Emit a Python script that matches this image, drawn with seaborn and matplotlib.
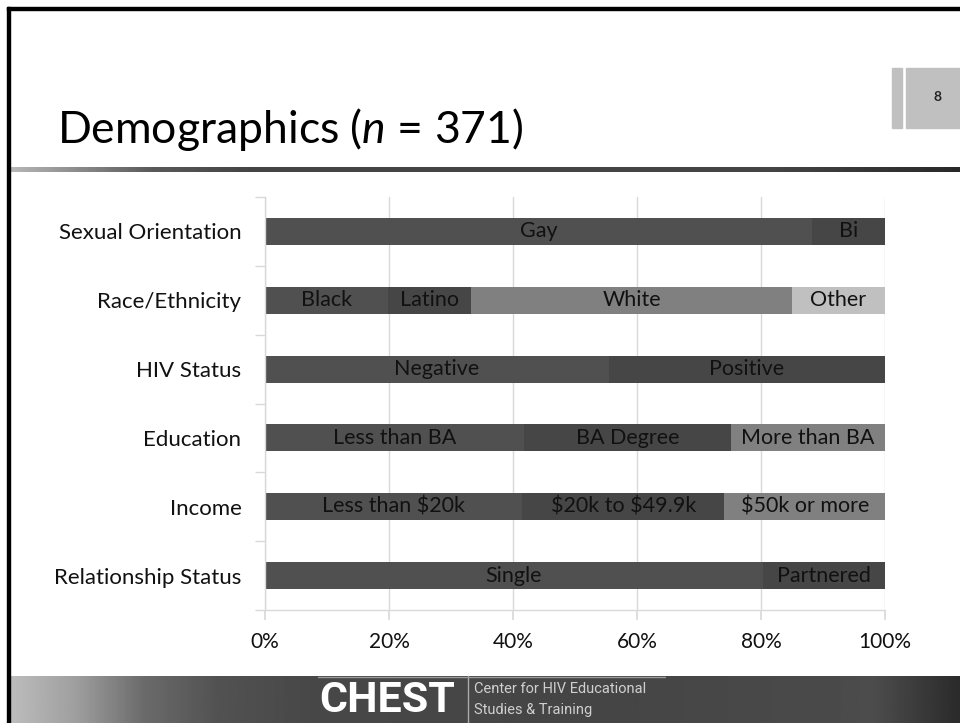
import numpy as np
import pandas as pd
import matplotlib
matplotlib.use("Agg")
import matplotlib.pyplot as plt
from matplotlib.patches import Rectangle
from matplotlib.lines import Line2D
import seaborn as sns

# data (percent of n = 371)
categories = ["Sexual Orientation", "Race/Ethnicity", "HIV Status",
              "Education", "Income", "Relationship Status"]
segment_labels = [["Gay", "Bi"],
                  ["Black", "Latino", "White", "Other"],
                  ["Negative", "Positive"],
                  ["Less than BA", "BA Degree", "More than BA"],
                  ["Less than $20k", "$20k to $49.9k", "$50k or more"],
                  ["Single", "Partnered"]]
segment_values = [[88.2, 11.8],
                  [19.8, 13.5, 51.7, 15.0],
                  [55.5, 44.5],
                  [41.8, 33.4, 24.8],
                  [41.5, 32.6, 25.9],
                  [80.3, 19.7]]
segment_colors = ["#505050", "#464646", "#808080", "#c0c0c0"]
x_ticks = [0, 20, 40, 60, 80, 100]
x_ticklabels = ["0%", "20%", "40%", "60%", "80%", "100%"]

sns.set_theme(style="white")
plt.rcParams["font.family"] = ["Lato", "DejaVu Sans"]
plt.rcParams["mathtext.fontset"] = "custom"
plt.rcParams["mathtext.rm"] = "Lato"
plt.rcParams["mathtext.it"] = "Lato:italic"

W, H = 960, 723
fig = plt.figure(figsize=(W / 100, H / 100), dpi=100)
fig.patch.set_facecolor("white")


def fx(px):
    return px / W


def fy(py):
    return 1 - py / H


# long table of cumulative ends, one row per segment
rows = []
for cat, vals in zip(categories, segment_values):
    cum = np.cumsum(vals)
    for k in range(len(vals)):
        rows.append({"category": cat, "segment": k, "end": cum[k]})
df = pd.DataFrame(rows)

ax = fig.add_axes([fx(265), fy(610), fx(620), 413 / H])
ax.set_axisbelow(True)
ax.grid(axis="x", color="#d9d9d9", lw=1)
for k in reversed(range(len(segment_colors))):
    sub = df[df["segment"] == k]
    sns.barplot(data=sub, x="end", y="category", order=categories, orient="h",
                color=segment_colors[k], saturation=1, width=0.39,
                linewidth=0, ax=ax)

# labels centred in each segment
for i, (labs, vals) in enumerate(zip(segment_labels, segment_values)):
    left = 0
    for lab, v in zip(labs, vals):
        ax.text(left + v / 2, i, lab.replace("$", r"\$"), ha="center", va="center",
                fontsize=15.5, color="#111111")
        left += v

ax.set_xlim(0, 100)
ax.set_ylim(5.5, -0.5)
ax.set_xticks(x_ticks)
ax.set_xticklabels(x_ticklabels)
ax.set_yticks(range(len(categories)))
ax.set_yticklabels(categories)
ax.set_yticks(np.arange(-0.5, len(categories), 1), minor=True)
ax.set_xlabel("")
ax.set_ylabel("")
for s in ["top", "right"]:
    ax.spines[s].set_visible(False)
for s in ["left", "bottom"]:
    ax.spines[s].set_color("#d9d9d9")
    ax.spines[s].set_linewidth(1)
ax.tick_params(axis="y", which="major", length=0, pad=17, labelsize=16, labelcolor="#111111")
ax.tick_params(axis="y", which="minor", length=7, color="#d9d9d9", left=True)
ax.tick_params(axis="x", length=7, color="#d9d9d9", pad=9, labelsize=15,
               labelcolor="#111111", bottom=True)

# slide frame
fig.patches.append(Rectangle((fx(7), 0), fx(3), fy(7), transform=fig.transFigure,
                             color="black", zorder=5))
fig.patches.append(Rectangle((fx(7), fy(10)), 1, 3 / H, transform=fig.transFigure,
                             color="black", zorder=5))

# title
fig.text(fx(57), fy(143), r"Demographics ($\mathit{n}$ = 371)", fontsize=32,
         va="baseline", ha="left", color="black")


def gradient_strip(rect, xs, vals):
    g = fig.add_axes(rect)
    grid = np.linspace(0, 1, 600)
    row = np.interp(grid, xs, vals)
    g.imshow(row[None, :], aspect="auto", cmap="gray", vmin=0, vmax=1,
             extent=[0, 1, 0, 1])
    g.set_axis_off()
    return g


# rule under the title
gradient_strip([fx(10), fy(172), fx(950), 5 / H],
               [0, 0.15, 0.25, 0.8, 1], [0.72, 0.35, 0.27, 0.27, 0.16])

# page number box
fig.patches.append(Rectangle((fx(892), fy(128)), fx(10), 60 / H,
                             transform=fig.transFigure, color="#c0c0c0"))
fig.patches.append(Rectangle((fx(906), fy(128)), fx(54), 60 / H,
                             transform=fig.transFigure, color="#c0c0c0"))
fig.text(fx(937), fy(97), "8", fontsize=10, fontweight="bold", ha="center",
         va="center", color="#222222")

# footer band
gradient_strip([fx(10), 0, fx(950), 47 / H],
               [0, 0.07, 0.14, 0.22, 0.32, 0.62, 0.86, 0.91, 1],
               [0.74, 0.62, 0.42, 0.32, 0.28, 0.27, 0.29, 0.30, 0.17])
fig.text(fx(319), fy(701), "CHEST", fontsize=31, fontweight="bold",
         family=["Roboto", "DejaVu Sans"], color="white",
         ha="left", va="center")
fig.lines.append(Line2D([fx(468), fx(468)], [0, fy(676)], transform=fig.transFigure,
                        color="#aaaaaa", lw=1))
fig.lines.append(Line2D([fx(318), fx(665)], [fy(676.5), fy(676.5)],
                        transform=fig.transFigure, color="#9a9a9a", lw=1))
fig.text(fx(474), fy(689), "Center for HIV Educational", fontsize=10.5,
         family=["Roboto", "DejaVu Sans"], color="#cfcfcf",
         ha="left", va="center")
fig.text(fx(474), fy(710), "Studies & Training", fontsize=10.5,
         family=["Roboto", "DejaVu Sans"], color="#cfcfcf",
         ha="left", va="center")

fig.savefig("out.png", dpi=100)
